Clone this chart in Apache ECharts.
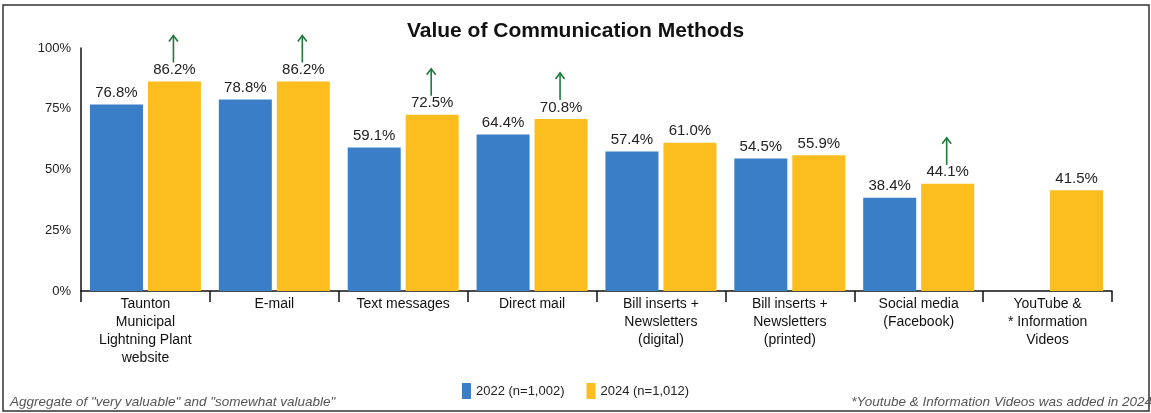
<!DOCTYPE html>
<html>
<head>
<meta charset="utf-8">
<script src="https://cdn.jsdelivr.net/npm/echarts@6/dist/echarts.min.js"></script>
<style>
  html, body { margin: 0; padding: 0; background: #fff; }
  #chart { width: 1151px; height: 413px; }
</style>
</head>
<body>
<div id="chart"></div>
<script>
// Survey categories and the share rating each method valuable
const categories = [
  'Taunton\nMunicipal\nLightning Plant\nwebsite',
  'E-mail',
  'Text messages',
  'Direct mail',
  'Bill inserts +\nNewsletters\n(digital)',
  'Bill inserts +\nNewsletters\n(printed)',
  'Social media\n(Facebook)',
  'YouTube &\n* Information\nVideos'
];
const values2022 = [76.8, 78.8, 59.1, 64.4, 57.4, 54.5, 38.4, null];
const values2024 = [86.2, 86.2, 72.5, 70.8, 61.0, 55.9, 44.1, 41.5];
// Methods with a significant increase since 2022
const improved = [true, true, true, true, false, false, true, false];
const yTicks = [0, 25, 50, 75, 100];

const seriesNames = ['2022 (n=1,002)', '2024 (n=1,012)'];
const BLUE = '#3a7ec8';
const ORANGE = '#fcbd1e';
const GREEN = '#1d7a3c';
const FONT = '"Liberation Sans", Arial, sans-serif';
const BAR_W = 53;
const BAR_GAP_PX = 5;

const arrowData = [];
improved.forEach(function (flag, i) {
  if (flag) arrowData.push([i, values2024[i]]);
});

const chart = echarts.init(document.getElementById('chart'));

const pctLabel = {
  show: true,
  position: 'top',
  distance: 4,
  color: '#222',
  fontSize: 15,
  fontFamily: FONT,
  formatter: function (p) { return p.value == null ? '' : p.value.toFixed(1) + '%'; }
};

chart.setOption({
  backgroundColor: '#fff',
  animation: false,
  textStyle: { fontFamily: FONT },
  title: {
    text: 'Value of Communication Methods',
    left: 'center',
    top: 16,
    textStyle: { fontSize: 21, fontWeight: 'bold', color: '#111', fontFamily: FONT }
  },
  legend: {
    data: seriesNames,
    bottom: 9,
    left: 'center',
    itemWidth: 9,
    itemHeight: 16,
    itemGap: 22,
    icon: 'rect',
    textStyle: { fontSize: 13, color: '#222', fontFamily: FONT }
  },
  grid: { left: 81, right: 39, top: 48, bottom: 122, containLabel: false },
  xAxis: {
    type: 'category',
    data: categories,
    axisLine: { lineStyle: { color: '#111', width: 1.5 } },
    axisTick: { show: true, length: 11, alignWithLabel: false, lineStyle: { color: '#111', width: 1.5 } },
    axisLabel: { interval: 0, color: '#111', fontSize: 14, lineHeight: 18, margin: 4, fontFamily: FONT }
  },
  yAxis: {
    type: 'value',
    min: 0,
    max: 100,
    interval: 25,
    splitLine: { show: false },
    axisLine: { show: true, lineStyle: { color: '#111', width: 1.5 } },
    axisTick: { show: false },
    axisLabel: {
      margin: 10,
      color: '#222',
      fontSize: 13,
      fontFamily: FONT,
      formatter: function (v) { return yTicks.indexOf(v) >= 0 ? v + '%' : ''; }
    }
  },
  series: [
    {
      name: seriesNames[0],
      type: 'bar',
      data: values2022,
      barWidth: BAR_W,
      barGap: (BAR_GAP_PX / BAR_W * 100).toFixed(1) + '%',
      itemStyle: { color: BLUE },
      label: pctLabel
    },
    {
      name: seriesNames[1],
      type: 'bar',
      data: values2024,
      barWidth: BAR_W,
      itemStyle: { color: ORANGE },
      label: pctLabel
    },
    {
      // Green up-arrows above the 2024 bars that rose significantly
      type: 'custom',
      data: arrowData,
      encode: { x: 0, y: 1 },
      silent: true,
      z: 1,
      renderItem: function (params, api) {
        const p = api.coord([api.value(0), api.value(1)]);
        const x = p[0] + (BAR_W + BAR_GAP_PX) / 2 - 1;
        const yTop = p[1] - 46;
        const yBot = p[1] - 19;
        const style = { stroke: GREEN, lineWidth: 1.6, fill: null };
        return {
          type: 'group',
          children: [
            { type: 'line', shape: { x1: x, y1: yTop, x2: x, y2: yBot }, style: style },
            { type: 'polyline', shape: { points: [[x - 4.5, yTop + 6], [x, yTop], [x + 4.5, yTop + 6]] }, style: style }
          ]
        };
      }
    }
  ],
  graphic: [
    {
      type: 'rect',
      shape: { x: 3, y: 5, width: 1146, height: 406 },
      style: { fill: null, stroke: '#333', lineWidth: 1.5 },
      silent: true
    },
    {
      type: 'text',
      left: 10,
      top: 395,
      style: {
        text: 'Aggregate of "very valuable" and "somewhat valuable"',
        fill: '#555',
        font: 'italic 13.5px ' + FONT
      }
    },
    {
      type: 'text',
      right: -1,
      top: 395,
      style: {
        text: '*Youtube & Information Videos was added in 2024',
        fill: '#555',
        font: 'italic 13.5px ' + FONT
      }
    }
  ]
});
</script>
</body>
</html>
